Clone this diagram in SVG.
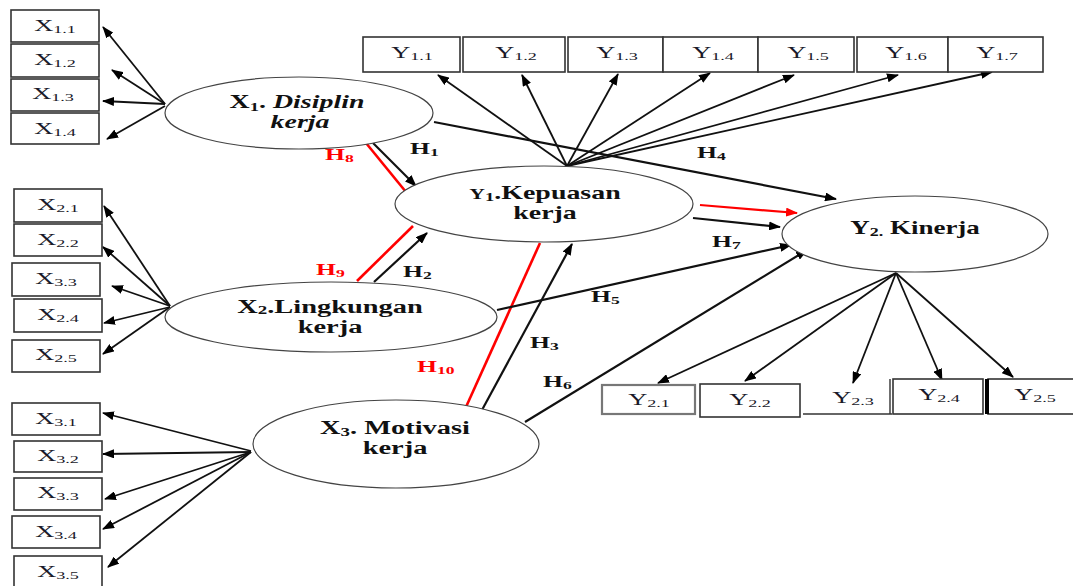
<svg xmlns="http://www.w3.org/2000/svg" width="1073" height="586" viewBox="0 0 1073 586">
<defs>
<marker id="ah" viewBox="0 0 12 9" refX="11" refY="4.5" markerWidth="12" markerHeight="9" markerUnits="userSpaceOnUse" orient="auto"><path d="M0,0 L12,4.5 L0,9 z" fill="#000"/></marker>
<marker id="ahr" viewBox="0 0 12 9" refX="11" refY="4.5" markerWidth="12" markerHeight="9" markerUnits="userSpaceOnUse" orient="auto"><path d="M0,0 L12,4.5 L0,9 z" fill="#f00"/></marker>
<style>
.box{fill:#fff;stroke:#333;stroke-width:1.6}
.ell{fill:#fff;stroke:#444;stroke-width:1.2}
.ind{stroke:#111;stroke-width:1.8;fill:none;marker-end:url(#ah)}
.con{stroke:#111;stroke-width:2.2;fill:none}
.arr{marker-end:url(#ah)}
.red{stroke:#f00;stroke-width:2.6;fill:none}
.lbl{font-family:"Liberation Serif","Times New Roman",serif;font-size:16px;fill:#1a1a2a}
.sub{font-size:11px}
.et{font-family:"Liberation Serif","Times New Roman",serif;font-size:18px;font-weight:bold;fill:#111}
.es{font-size:12px}
.h{font-family:"Liberation Serif","Times New Roman",serif;font-size:16px;font-weight:bold;fill:#111}
.hr{fill:#f00}
.hs{font-size:11px}
</style>
</defs>
<rect width="1073" height="586" fill="#fff"/>

<g id="connectors">
<line class="ind" x1="165" y1="104" x2="103" y2="27"/>
<line class="ind" x1="165" y1="104" x2="112" y2="70"/>
<line class="ind" x1="165" y1="104" x2="103" y2="101"/>
<line class="ind" x1="165" y1="106" x2="107" y2="139"/>
<line class="ind" x1="170" y1="306" x2="104" y2="206"/>
<line class="ind" x1="170" y1="306" x2="103" y2="247"/>
<line class="ind" x1="170" y1="306" x2="112" y2="286"/>
<line class="ind" x1="170" y1="307" x2="104" y2="323"/>
<line class="ind" x1="170" y1="307" x2="103" y2="354"/>
<line class="ind" x1="251" y1="451" x2="103" y2="413"/>
<line class="ind" x1="251" y1="452" x2="103" y2="454"/>
<line class="ind" x1="251" y1="452" x2="105" y2="499"/>
<line class="ind" x1="251" y1="452" x2="103" y2="529"/>
<line class="ind" x1="251" y1="452" x2="108" y2="567"/>
<line class="ind" x1="567" y1="166" x2="438" y2="75"/>
<line class="ind" x1="567" y1="166" x2="522" y2="75"/>
<line class="ind" x1="567" y1="166" x2="618" y2="74"/>
<line class="ind" x1="567" y1="166" x2="710" y2="73"/>
<line class="ind" x1="567" y1="166" x2="794" y2="75"/>
<line class="ind" x1="567" y1="166" x2="898" y2="75"/>
<line class="ind" x1="567" y1="166" x2="992" y2="72"/>
<line class="ind" x1="896" y1="273" x2="658" y2="383"/>
<line class="ind" x1="896" y1="273" x2="745" y2="381"/>
<line class="ind" x1="896" y1="273" x2="853" y2="383"/>
<line class="ind" x1="896" y1="273" x2="942" y2="380"/>
<line class="ind" x1="896" y1="273" x2="1013" y2="377"/>
<line class="con arr" x1="434" y1="122" x2="836" y2="199"/>
<line class="con arr" x1="373" y1="143" x2="416" y2="186"/>
<line class="red" x1="366" y1="143" x2="406" y2="192"/>
<line class="con arr" x1="374" y1="282" x2="427" y2="233"/>
<line class="red" x1="357" y1="281" x2="413" y2="226"/>
<line class="con arr" x1="482" y1="410" x2="572" y2="244"/>
<line class="red" x1="466" y1="407" x2="540" y2="243"/>
<line class="con arr" x1="497" y1="310" x2="791" y2="245"/>
<line class="con arr" x1="525" y1="422" x2="807" y2="250"/>
<line class="con arr" x1="693" y1="218" x2="780" y2="227"/>
<line class="red" x1="700" y1="205" x2="797" y2="213" style="marker-end:url(#ahr);stroke-width:2.2"/>
</g>

<g id="X1">
<ellipse class="ell" cx="299" cy="113" rx="134" ry="36"/>
<text class="et" transform="translate(297,108) scale(1.55,1)" text-anchor="middle">X<tspan class="es" dy="3">1</tspan><tspan dy="-3">. </tspan><tspan font-style="italic">Disiplin</tspan></text>
<text class="et" transform="translate(300,128) scale(1.55,1)" text-anchor="middle" font-style="italic">kerja</text>
</g>
<g id="X1.1"><rect class="box" x="11" y="10" width="88" height="32"/><text class="lbl" transform="translate(55,31) scale(1.65,1)" text-anchor="middle">X<tspan class="sub" dy="2">1.1</tspan></text></g>
<g id="X1.2"><rect class="box" x="11" y="44" width="88" height="33"/><text class="lbl" transform="translate(55,65) scale(1.65,1)" text-anchor="middle">X<tspan class="sub" dy="2">1.2</tspan></text></g>
<g id="X1.3"><rect class="box" x="11" y="79" width="88" height="32"/><text class="lbl" transform="translate(53,99) scale(1.65,1)" text-anchor="middle">X<tspan class="sub" dy="2">1.3</tspan></text></g>
<g id="X1.4"><rect class="box" x="11" y="113" width="88" height="31"/><text class="lbl" transform="translate(55,134) scale(1.65,1)" text-anchor="middle">X<tspan class="sub" dy="2">1.4</tspan></text></g>

<g id="X2">
<ellipse class="ell" cx="331" cy="317" rx="166" ry="35"/>
<text class="et" transform="translate(330,313) scale(1.58,1)" text-anchor="middle">X<tspan class="es" dy="1">2</tspan><tspan dy="-1">.Lingkungan</tspan></text>
<text class="et" transform="translate(330,333) scale(1.58,1)" text-anchor="middle">kerja</text>
</g>
<g id="X2.1"><rect class="box" x="14" y="189" width="88" height="33"/><text class="lbl" transform="translate(58,210) scale(1.65,1)" text-anchor="middle">X<tspan class="sub" dy="2">2.1</tspan></text></g>
<g id="X2.2"><rect class="box" x="14" y="224" width="88" height="32"/><text class="lbl" transform="translate(58,245) scale(1.65,1)" text-anchor="middle">X<tspan class="sub" dy="2">2.2</tspan></text></g>
<g id="X2.3"><rect class="box" x="12" y="263" width="88" height="33"/><text class="lbl" transform="translate(56,284) scale(1.65,1)" text-anchor="middle">X<tspan class="sub" dy="2">3.3</tspan></text></g>
<g id="X2.4"><rect class="box" x="14" y="299" width="88" height="33"/><text class="lbl" transform="translate(58,320) scale(1.65,1)" text-anchor="middle">X<tspan class="sub" dy="2">2.4</tspan></text></g>
<g id="X2.5"><rect class="box" x="12" y="340" width="88" height="32"/><text class="lbl" transform="translate(56,360) scale(1.65,1)" text-anchor="middle">X<tspan class="sub" dy="2">2.5</tspan></text></g>

<g id="X3">
<ellipse class="ell" cx="396" cy="444" rx="143" ry="44"/>
<text class="et" transform="translate(395,434) scale(1.58,1)" text-anchor="middle">X<tspan class="es" dy="2">3</tspan><tspan dy="-2">. Motivasi</tspan></text>
<text class="et" transform="translate(395,454) scale(1.58,1)" text-anchor="middle">kerja</text>
</g>
<g id="X3.1"><rect class="box" x="12" y="403" width="88" height="32"/><text class="lbl" transform="translate(56,424) scale(1.65,1)" text-anchor="middle">X<tspan class="sub" dy="2">3.1</tspan></text></g>
<g id="X3.2"><rect class="box" x="14" y="441" width="88" height="31"/><text class="lbl" transform="translate(58,461) scale(1.65,1)" text-anchor="middle">X<tspan class="sub" dy="2">3.2</tspan></text></g>
<g id="X3.3"><rect class="box" x="14" y="478" width="88" height="32"/><text class="lbl" transform="translate(58,498) scale(1.65,1)" text-anchor="middle">X<tspan class="sub" dy="2">3.3</tspan></text></g>
<g id="X3.4"><rect class="box" x="12" y="516" width="88" height="32"/><text class="lbl" transform="translate(56,537) scale(1.65,1)" text-anchor="middle">X<tspan class="sub" dy="2">3.4</tspan></text></g>
<g id="X3.5"><rect class="box" x="14" y="556" width="88" height="40"/><text class="lbl" transform="translate(58,577) scale(1.65,1)" text-anchor="middle">X<tspan class="sub" dy="2">3.5</tspan></text></g>

<g id="Y1">
<ellipse class="ell" cx="544" cy="204" rx="149" ry="38"/>
<text class="et" transform="translate(545,199) scale(1.55,1)" text-anchor="middle"><tspan font-size="14">Y</tspan><tspan class="es" dy="2">1</tspan><tspan dy="-2">.Kepuasan</tspan></text>
<text class="et" transform="translate(545,219) scale(1.55,1)" text-anchor="middle">kerja</text>
</g>
<g id="Y1.1"><rect class="box" x="363" y="37" width="97" height="35"/><text class="lbl" transform="translate(412,58) scale(1.65,1)" text-anchor="middle">Y<tspan class="sub" dy="2">1.1</tspan></text></g>
<g id="Y1.2"><rect class="box" x="463" y="37" width="102" height="35"/><text class="lbl" transform="translate(516,58) scale(1.65,1)" text-anchor="middle">Y<tspan class="sub" dy="2">1.2</tspan></text></g>
<g id="Y1.3"><rect class="box" x="568" y="37" width="95" height="35"/><text class="lbl" transform="translate(617,58) scale(1.65,1)" text-anchor="middle">Y<tspan class="sub" dy="2">1.3</tspan></text></g>
<g id="Y1.4"><rect class="box" x="663" y="37" width="95" height="35"/><text class="lbl" transform="translate(713,58) scale(1.65,1)" text-anchor="middle">Y<tspan class="sub" dy="2">1.4</tspan></text></g>
<g id="Y1.5"><rect class="box" x="758" y="37" width="96" height="35"/><text class="lbl" transform="translate(808,58) scale(1.65,1)" text-anchor="middle">Y<tspan class="sub" dy="2">1.5</tspan></text></g>
<g id="Y1.6"><rect class="box" x="857" y="37" width="91" height="35"/><text class="lbl" transform="translate(906,58) scale(1.65,1)" text-anchor="middle">Y<tspan class="sub" dy="2">1.6</tspan></text></g>
<g id="Y1.7"><rect class="box" x="948" y="37" width="95" height="35"/><text class="lbl" transform="translate(997,58) scale(1.65,1)" text-anchor="middle">Y<tspan class="sub" dy="2">1.7</tspan></text></g>

<g id="Y2">
<ellipse class="ell" cx="915" cy="234" rx="133" ry="38"/>
<text class="et" transform="translate(915,234) scale(1.5,1)" text-anchor="middle">Y<tspan class="es" dy="2">2.</tspan><tspan dy="-2"> Kinerja</tspan></text>
</g>
<g id="Y2.1"><rect x="602" y="385" width="93" height="29" fill="#fff" stroke="#777" stroke-width="2.2"/><text class="lbl" transform="translate(649,405) scale(1.65,1)" text-anchor="middle">Y<tspan class="sub" dy="2">2.1</tspan></text></g>
<g id="Y2.2"><rect class="box" x="700" y="384" width="100" height="33"/><text class="lbl" transform="translate(750,405) scale(1.65,1)" text-anchor="middle">Y<tspan class="sub" dy="2">2.2</tspan></text></g>
<g id="Y2.3"><line x1="803" y1="414" x2="892" y2="414" stroke="#333" stroke-width="1.6"/><text class="lbl" transform="translate(853,403) scale(1.65,1)" text-anchor="middle">Y<tspan class="sub" dy="2">2.3</tspan></text></g>
<g id="Y2.4"><line x1="890" y1="379" x2="890" y2="414" stroke="#333" stroke-width="1.4"/><rect class="box" x="893" y="379" width="90" height="35"/><text class="lbl" transform="translate(939,400) scale(1.65,1)" text-anchor="middle">Y<tspan class="sub" dy="2">2.4</tspan></text></g>
<g id="Y2.5"><rect class="box" x="988" y="379" width="95" height="35"/><line x1="987" y1="379" x2="987" y2="414" stroke="#000" stroke-width="4"/><text class="lbl" transform="translate(1035,400) scale(1.65,1)" text-anchor="middle">Y<tspan class="sub" dy="2">2.5</tspan></text></g>

<g id="labels">
<text class="h" transform="translate(410,154) scale(1.6,1)">H<tspan class="hs" dy="2">1</tspan></text>
<text class="h hr" transform="translate(325,160) scale(1.6,1)">H<tspan class="hs" dy="2">8</tspan></text>
<text class="h" transform="translate(697,158) scale(1.6,1)">H<tspan class="hs" dy="2">4</tspan></text>
<text class="h" transform="translate(712,247) scale(1.6,1)">H<tspan class="hs" dy="2">7</tspan></text>
<text class="h hr" transform="translate(316,275) scale(1.6,1)">H<tspan class="hs" dy="2">9</tspan></text>
<text class="h" transform="translate(403,277) scale(1.6,1)">H<tspan class="hs" dy="2">2</tspan></text>
<text class="h" transform="translate(591,302) scale(1.6,1)">H<tspan class="hs" dy="2">5</tspan></text>
<text class="h" transform="translate(530,348) scale(1.6,1)">H<tspan class="hs" dy="2">3</tspan></text>
<text class="h hr" transform="translate(417,372) scale(1.6,1)">H<tspan class="hs" dy="2">10</tspan></text>
<text class="h" transform="translate(543,387) scale(1.6,1)">H<tspan class="hs" dy="2">6</tspan></text>
</g>
</svg>
